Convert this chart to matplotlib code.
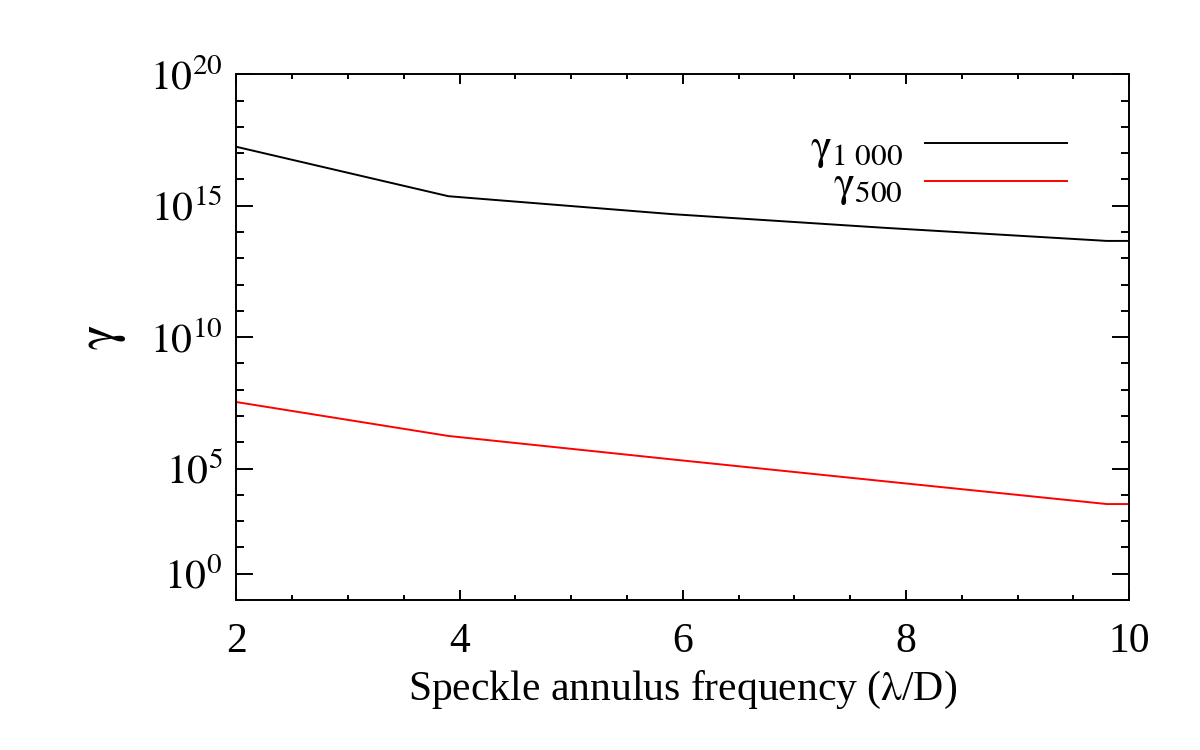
import numpy as np
import matplotlib
matplotlib.use("Agg")
import matplotlib.pyplot as plt
from matplotlib.ticker import FixedLocator, FixedFormatter, MultipleLocator

plt.rcParams['font.family'] = ['Liberation Serif', 'DejaVu Serif']
plt.rcParams['mathtext.fontset'] = 'custom'
plt.rcParams['mathtext.rm'] = 'STIXGeneral'
plt.rcParams['mathtext.it'] = 'STIXGeneral:italic'
plt.rcParams['mathtext.bf'] = 'STIXGeneral:bold'

# Daten
freq = [2.0, 3.9, 5.9, 7.8, 9.8, 10.0]
log_gamma_1000 = [17.24, 15.36, 14.68, 14.16, 13.66, 13.66]
log_gamma_500 = [7.53, 6.24, 5.35, 4.52, 3.65, 3.65]

ytick_pos = [1e1, 1e5, 1e10, 1e15, 1e20]
ytick_labels = [r'$\mathrm{10^{0}}$', r'$\mathrm{10^{5}}$', r'$\mathrm{10^{10}}$',
                r'$\mathrm{10^{15}}$', r'$\mathrm{10^{20}}$']
xtick_pos = [2, 4, 6, 8, 10]

gamma_1000 = 10.0 ** np.array(log_gamma_1000)
gamma_500 = 10.0 ** np.array(log_gamma_500)

fig = plt.figure(figsize=(12, 7.5), dpi=100)
ax = fig.add_axes([0.197, 0.2, 0.744, 0.701])

ax.plot(freq, gamma_1000, color='black', lw=1.4, label=r'$\mathrm{γ_{1\ 000}}$')
ax.plot(freq, gamma_500, color='red', lw=1.4, label=r'$\mathrm{γ_{500}}$')

ax.set_yscale('log')
ax.set_xlim(2, 10)
ax.set_ylim(1e0, 1e20)

# Ticks wie IDL (innen, alle vier Seiten)
ax.yaxis.set_major_locator(FixedLocator(ytick_pos))
ax.yaxis.set_major_formatter(FixedFormatter(ytick_labels))
ax.yaxis.set_minor_locator(FixedLocator([10.0 ** k for k in range(0, 21)]))
ax.yaxis.set_minor_formatter(FixedFormatter([]))
ax.xaxis.set_major_locator(FixedLocator(xtick_pos))
ax.xaxis.set_minor_locator(MultipleLocator(0.5))

ax.tick_params(axis='both', which='both', direction='in', top=True, right=True,
               width=1.4, labelsize=30)
ax.tick_params(axis='y', which='major', length=12, pad=10)
ax.tick_params(axis='y', which='minor', length=6)
ax.tick_params(axis='x', which='major', length=7, pad=16)
ax.tick_params(axis='x', which='minor', length=3.5)

for s in ax.spines.values():
    s.set_linewidth(1.4)

ax.set_xlabel(r'Speckle annulus frequency ($\mathrm{λ}$/D)', fontsize=30, labelpad=6)
ax.set_ylabel(r'$\mathrm{γ}$', fontsize=38, labelpad=16)

ax.legend(loc='upper right', frameon=False, markerfirst=False, fontsize=32,
          handlelength=3.2, handletextpad=0.5, labelspacing=-0.1,
          bbox_to_anchor=(0.975, 0.975))

fig.savefig('out.png', dpi=100)
